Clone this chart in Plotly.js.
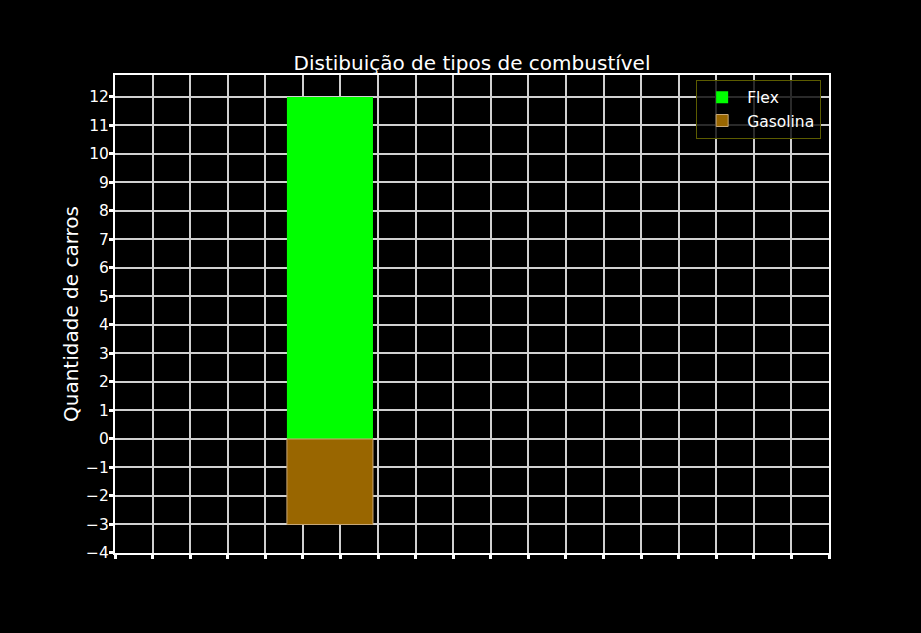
<!DOCTYPE html>
<html>
<head>
<meta charset="utf-8">
<script src="https://cdn.plot.ly/plotly-3.0.1.min.js"></script>
<style>
  html, body { margin: 0; padding: 0; background: #000; }
  #chart { width: 921px; height: 633px; }
</style>
</head>
<body>
<div id="chart"></div>
<script>
// Data
const seriesNames = ["Flex", "Gasolina"];
const seriesValues = [12, -3];
const barPosition = [5.72];          // bar centre on the (unlabelled) x axis
const yTickValues = [-4, -3, -2, -1, 0, 1, 2, 3, 4, 5, 6, 7, 8, 9, 10, 11, 12];
const chartTitle = "Distibuição de tipos de combustível";
const yAxisTitle = "Quantidade de carros";

const colors = ["#00ff00", "#996600"];
const edgeColors = ["#00ff00", "#c8a878"];

const traces = seriesNames.map((name, i) => ({
  type: "bar",
  name: name,
  x: barPosition,
  y: [seriesValues[i]],
  width: 2.29,
  marker: { color: colors[i], line: { color: edgeColors[i], width: i === 1 ? 1 : 0 } },
  hoverinfo: "none"
}));

const font = { family: "DejaVu Sans, sans-serif", color: "#ffffff" };

const layout = {
  width: 921,
  height: 633,
  paper_bgcolor: "#000000",
  plot_bgcolor: "#000000",
  margin: { l: 115, r: 92, t: 75, b: 80, pad: 0 },
  font: Object.assign({ size: 15 }, font),
  barmode: "overlay",
  showlegend: true,
  title: {
    text: chartTitle,
    font: Object.assign({ size: 20 }, font),
    x: 0.5, xref: "paper", xanchor: "center",
    y: 1, yref: "paper", yanchor: "bottom",
    pad: { b: 5 }
  },
  xaxis: {
    range: [0, 19],
    tickmode: "linear", tick0: 0, dtick: 1,
    showticklabels: false,
    ticks: "outside", ticklen: 4, tickwidth: 3, tickcolor: "#ffffff",
    showgrid: true, gridcolor: "#d0d0d0", gridwidth: 2,
    showline: true, linecolor: "#ffffff", linewidth: 2, mirror: true,
    zeroline: false, fixedrange: true
  },
  yaxis: {
    range: [-4.0005, 12.77],
    tickmode: "array", tickvals: yTickValues,
    ticks: "outside", ticklen: 4, tickwidth: 3, tickcolor: "#ffffff",
    ticklabelstandoff: -3,
    tickfont: Object.assign({ size: 15.5 }, font),
    showgrid: true, gridcolor: "#d0d0d0", gridwidth: 2,
    showline: true, linecolor: "#ffffff", linewidth: 2, mirror: true,
    zeroline: false, fixedrange: true,
    automargin: false,
    title: { text: yAxisTitle, font: Object.assign({ size: 20 }, font), standoff: 2 }
  },
  legend: {
    x: 0.989, xanchor: "right",
    y: 0.99, yanchor: "top",
    bgcolor: "rgba(0,0,0,0.8)",
    bordercolor: "#5c5c00",
    borderwidth: 1,
    font: Object.assign({ size: 15.5 }, font),
    traceorder: "normal",
    itemwidth: 40
  }
};

Plotly.newPlot("chart", traces, layout, { staticPlot: true, displayModeBar: false });
</script>
</body>
</html>
